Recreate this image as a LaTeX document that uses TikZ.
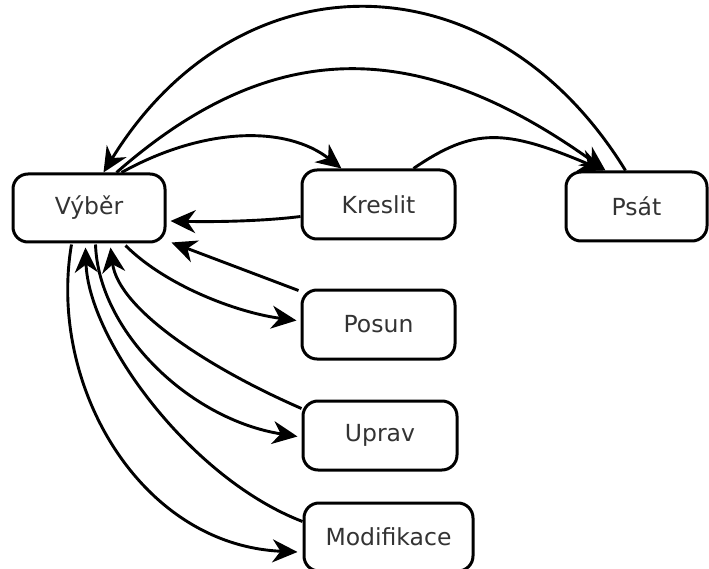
\documentclass[tikz,border=0pt]{standalone}
\usepackage{fontspec}
\setmainfont{DejaVu Sans}
\usetikzlibrary{arrows.meta}
\begin{document}
\begin{tikzpicture}[x=1pt,y=-1pt,
  box/.style={draw=black,line width=3pt,rounded corners=15pt,fill=white,
    minimum width=152pt,minimum height=68pt,inner sep=0pt,
    font=\fontsize{23.5}{27}\selectfont,text=black!80},
  conn/.style={line width=2.9pt,-{Stealth[length=25pt,width=23pt,inset=8pt]}}]
\useasboundingbox (0,0) rectangle (709,569);
\node[box] (vyber) at (89,208) {Výběr};
\node[box,minimum width=153pt,minimum height=69pt] (kreslit) at (378.5,204.5) {Kreslit};
\node[box,minimum width=141pt,minimum height=69pt] (psat) at (636.5,206.5) {Psát};
\node[box,minimum width=153pt,minimum height=69pt] (posun) at (378.5,324.5) {Posun};
\node[box,minimum width=154pt,minimum height=69pt] (uprav) at (380,435.5) {Uprav};
\node[box,minimum width=169pt,minimum height=68pt] (modif) at (388.5,537) {Modifikace};
% top arcs
\draw[conn] ([xshift=61pt]psat.north west) .. controls +(-134,-218) and +(134,-218) .. ([xshift=92pt]vyber.north west);
\draw[conn] ([xshift=105pt]vyber.north west) .. controls +(156,-137) and +(-187,-134) .. ([xshift=41pt]psat.north west);
\draw[conn] ([xshift=110pt]vyber.north west) .. controls +(83,-46) and +(-55,-43) .. ([xshift=41pt]kreslit.north west);
\draw[conn] ([xshift=113pt]kreslit.north west) .. controls +(60,-41) and +(-99,-42) .. ([xshift=39pt]psat.north west);
% right side
\draw[conn] ([yshift=-12pt]kreslit.west) .. controls +(-40,5) and +(40,1) .. ([xshift=4pt,yshift=-13pt]vyber.east);
\draw[conn] ([xshift=-2pt,yshift=-2pt]posun.north west) -- ([xshift=5pt,yshift=1pt]vyber.south east);
\draw[conn] ([xshift=114pt,yshift=-2pt]vyber.south west) .. controls +(40,40) and +(-60,-8) .. ([xshift=-4pt,yshift=4pt]posun.west);
\draw[conn] ([yshift=-9pt]uprav.north west) .. controls +(-92,-40) and +(8,62) .. ([xshift=99pt,yshift=-4pt]vyber.south west);
\draw[conn] ([xshift=84pt,yshift=-1pt]vyber.south west) .. controls +(3,87) and +(-108,-17) .. ([xshift=-4pt,yshift=-1pt]uprav.west);
\draw[conn] ([yshift=-20pt]modif.north west) .. controls +(-112,-43) and +(3,92) .. ([xshift=74pt,yshift=-4pt]vyber.south west);
\draw[conn] ([xshift=60pt,yshift=-1pt]vyber.south west) .. controls +(-24,140) and +(-158,-7) .. ([xshift=-5pt,yshift=-15pt]modif.west);
\end{tikzpicture}
\end{document}
